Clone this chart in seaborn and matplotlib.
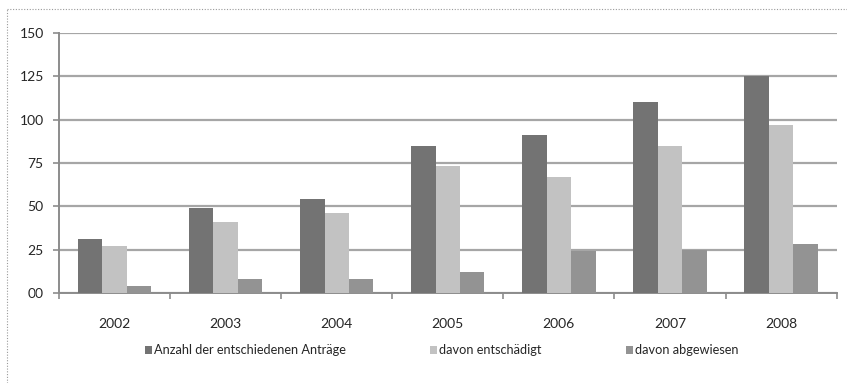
import matplotlib
matplotlib.use("Agg")
import matplotlib.pyplot as plt
from matplotlib.lines import Line2D
from matplotlib.patches import Patch
import seaborn as sns
import pandas as pd

years = ["2002", "2003", "2004", "2005", "2006", "2007", "2008"]
series_names = ["Anzahl der entschiedenen Anträge", "davon entschädigt", "davon abgewiesen"]
entschieden = [31, 49, 54, 85, 91, 110, 125]
entschaedigt = [27, 41, 46, 73, 67, 85, 97]
abgewiesen = [4, 8, 8, 12, 24, 25, 28]
y_ticks = [0, 25, 50, 75, 100, 125, 150]
y_tick_labels = ["00", "25", "50", "75", "100", "125", "150"]

colors = ["#737373", "#c2c2c2", "#939393"]

df = pd.DataFrame({
    "Jahr": years * 3,
    "Serie": [series_names[0]] * 7 + [series_names[1]] * 7 + [series_names[2]] * 7,
    "Wert": entschieden + entschaedigt + abgewiesen,
})

sns.set_theme(style="white")
plt.rcParams["font.family"] = ["Lato", "DejaVu Sans"]

fig = plt.figure(figsize=(8.47, 3.83), dpi=100)
ax = fig.add_axes([0.0697, 0.235, 0.918, 0.679])

sns.barplot(data=df, x="Jahr", y="Wert", hue="Serie", order=years,
            hue_order=series_names, palette=colors, width=0.66, gap=0,
            saturation=1, linewidth=0, legend=False, ax=ax, zorder=3)

ax.set_ylim(0, 150)
ax.set_xlim(-0.5, len(years) - 0.5)
ax.set_yticks(y_ticks)
ax.set_yticklabels(y_tick_labels)
ax.yaxis.grid(True, color="#a6a6a6", linewidth=1.6, zorder=0)
ax.set_axisbelow(True)

# category boundaries carry the tick marks, centers carry the labels
ax.set_xticks([i - 0.5 for i in range(len(years) + 1)])
ax.set_xticklabels([])
ax.set_xticks(range(len(years)), minor=True)
ax.set_xticklabels(years, minor=True)
ax.tick_params(axis="x", which="major", length=4.5, width=1.2, color="#8c8c8c", direction="out", bottom=True)
ax.tick_params(axis="x", which="minor", length=0, pad=18, labelsize=10, labelcolor="#262626")
ax.tick_params(axis="y", length=4, width=1.2, color="#8c8c8c", direction="out", left=True,
               labelsize=10, labelcolor="#262626", pad=7)

ax.set_xlabel("")
ax.set_ylabel("")
for side in ["top", "right"]:
    ax.spines[side].set_visible(False)
for side in ["left", "bottom"]:
    ax.spines[side].set_color("#8c8c8c")
    ax.spines[side].set_linewidth(1.4)

handles = [Patch(facecolor=c, edgecolor="none") for c in colors]
fig.legend(handles, series_names, loc="center left", bbox_to_anchor=(0.158, 0.085),
           ncol=3, frameon=False, fontsize=9.2, handlelength=0.5, handleheight=0.5,
           handletextpad=0.2, columnspacing=6.6, labelcolor="#262626")

# dotted frame along the top and left edge
fig.add_artist(Line2D([0.008, 1.0], [0.977, 0.977], transform=fig.transFigure,
                      color="#9a9a9a", linewidth=0.8, linestyle=(0, (1, 1.5))))
fig.add_artist(Line2D([0.008, 0.008], [0.0, 0.977], transform=fig.transFigure,
                      color="#9a9a9a", linewidth=0.8, linestyle=(0, (1, 1.5))))

fig.savefig("out.png", dpi=100)
